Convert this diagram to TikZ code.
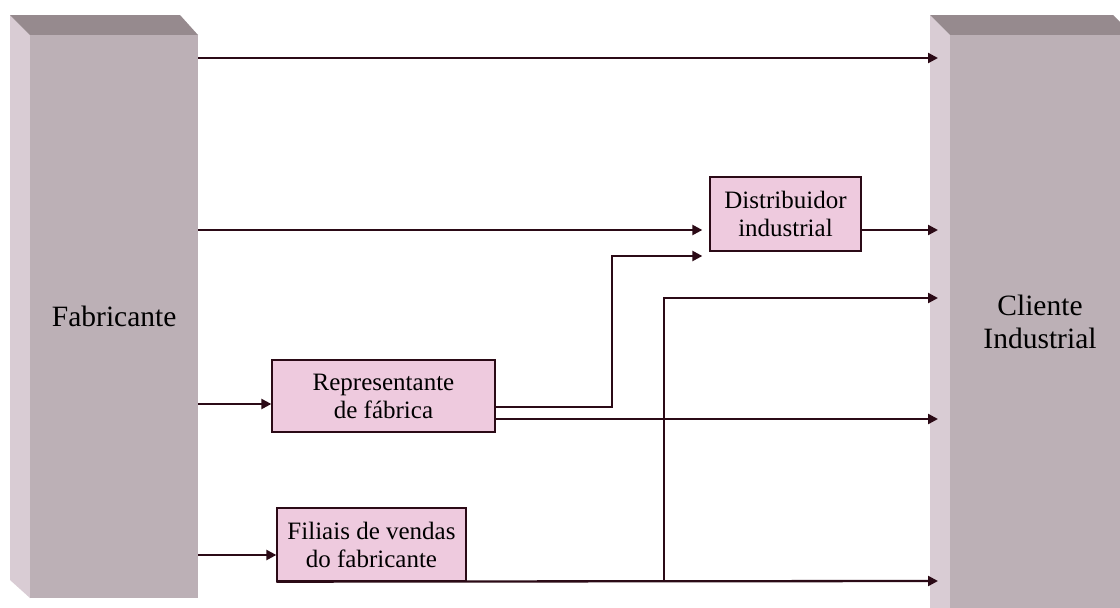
\documentclass[tikz,border=0pt]{standalone}
\usepackage{fontspec}
\setmainfont{Liberation Serif}
\usetikzlibrary{arrows.meta}
\definecolor{frontc}{HTML}{BCB0B6}
\definecolor{topc}{HTML}{968A8E}
\definecolor{sidec}{HTML}{D9CCD4}
\definecolor{pinkbox}{HTML}{EECADE}
\definecolor{ink}{HTML}{2B0A16}
\begin{document}
\begin{tikzpicture}[x=1pt,y=-1pt,
  conn/.style={draw=ink,line width=2.3pt,-{Triangle[length=10pt,width=10pt]}},
  chan/.style={draw=ink,line width=1.3pt,fill=pinkbox,inner sep=0pt,
    font=\fontsize{25}{28}\selectfont,align=center},
  face/.style={fill=frontc,inner sep=0pt,anchor=north west,
    font=\fontsize{29.5}{33}\selectfont,align=center}]
\useasboundingbox (0,0) rectangle (1120,608);
% Fabricante 3D block
\fill[sidec] (10,15) -- (30,35) -- (30,598) -- (10,580) -- cycle;
\fill[topc] (10,15) -- (180,15) -- (198,35) -- (30,35) -- cycle;
\node[face,minimum width=168pt,minimum height=563pt] (fab) at (30,35) {Fabricante};
% Cliente 3D block
\fill[sidec] (930,15) -- (950,35) -- (950,630) -- (930,610) -- cycle;
\fill[topc] (930,15) -- (1113,15) -- (1133,35) -- (950,35) -- cycle;
\node[face,minimum width=190pt,minimum height=595pt] (cli) at (950,35) {};
\node[font=\fontsize{29.5}{33}\selectfont,align=center] (clitext) at (1040,322) {Cliente\\Industrial};
% channel boxes
\node[chan,minimum width=151pt,minimum height=74pt] (dist) at (785.5,214) {Distribuidor\\industrial};
\node[chan,minimum width=223pt,minimum height=72pt] (rep) at (383.5,396) {Representante\\de fábrica};
\node[chan,minimum width=189pt,minimum height=73pt] (fil) at (371.5,544.5) {Filiais de vendas\\do fabricante};
% coordinates on the customer block
\coordinate (t1) at ([xshift=-12pt]cli.west |- 0,58);
\coordinate (t2) at ([xshift=-12pt]cli.west |- 0,230);
\coordinate (t3) at ([xshift=-12pt]cli.west |- 0,298);
\coordinate (t4) at ([xshift=-12pt]cli.west |- 0,419);
\coordinate (t5) at ([xshift=-12pt]cli.west |- 0,581);
\coordinate (dlow) at ([xshift=-7pt]dist.south west |- 0,256);
\coordinate (dmid) at ([xshift=-7pt,yshift=-16pt]dist.west);
% connectors
\draw[conn] (fab.east |- t1) -- (t1);
\draw[conn] (fab.east |- dmid) -- (dmid);
\draw[conn] (dist.east |- t2) -- (t2);
\draw[conn] ([yshift=-11pt]rep.east) -| (612,256) -- (dlow);
\draw[conn] (rep.east |- t4) -- (t4);
\draw[conn] (fab.east |- 0,404) -- (rep.west |- 0,404);
\draw[conn] (fab.east |- 0,555) -- (fil.west |- 0,555);
\draw[conn] (fil.south west) -- (t5);
\draw[conn] (664,581) -- (664,298) -- (t3);
\end{tikzpicture}
\end{document}
